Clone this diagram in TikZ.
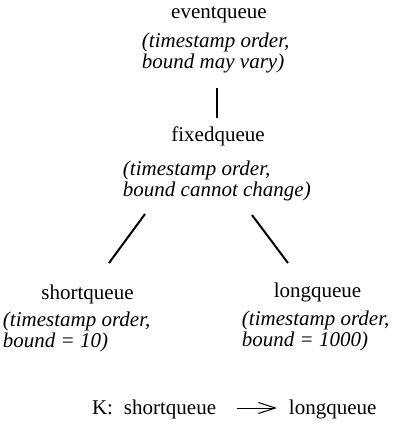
\documentclass[tikz,border=0pt]{standalone}
\usepackage{fontspec}
\setmainfont{Liberation Serif}
\usetikzlibrary{arrows.meta}
\begin{document}
\begin{tikzpicture}[x=0.5pt,y=-0.5pt,
  every node/.style={inner sep=0pt,outer sep=0pt,font=\fontsize{10.5}{10.25}\selectfont},
  qname/.style={anchor=base},
  desc/.style={anchor=base west,align=left,font=\fontsize{10.5}{10.25}\selectfont\itshape},
  conn/.style={line width=1pt}]
\useasboundingbox (0,0) rectangle (393,425);
\node[qname] (ev) at (219,18) {eventqueue};
\node[desc,font=\fontsize{10.5}{9.5}\selectfont\itshape] (evd) at (142,68.5) {(timestamp order,\\bound may vary)};
\node[qname] (fx) at (218,141) {fixedqueue};
\node[desc] (fxd) at (123,196) {(timestamp order,\\bound cannot change)};
\node[qname] (sh) at (87.5,299) {shortqueue};
\node[desc] (shd) at (3,347) {(timestamp order,\\bound = 10)};
\node[qname] (lg) at (317.5,297) {longqueue};
\node[desc] (lgd) at (242,346) {(timestamp order,\\bound = 1000)};
\coordinate (v1) at (217,88);
\coordinate (v2) at (217,118);
\coordinate (l1) at (145,214);
\coordinate (l2) at (109,263);
\coordinate (r1) at (252,215);
\coordinate (r2) at (288,263);
\draw[conn] (v1) -- (v2);
\draw[conn] (l1) -- (l2);
\draw[conn] (r1) -- (r2);
\node[anchor=base west] (k) at (92,414) {K:};
\node[anchor=base west] (ks) at (124,414) {shortqueue};
\node[anchor=base west] (kl) at (289,414) {longqueue};
\draw[line width=0.5pt,-{Straight Barb[length=8.5pt,width=5.5pt,line width=0.5pt]},shorten <=10.5pt,shorten >=6pt]
  ([yshift=3pt]ks.base east) -- ([yshift=3pt]kl.base west);
\end{tikzpicture}
\end{document}
